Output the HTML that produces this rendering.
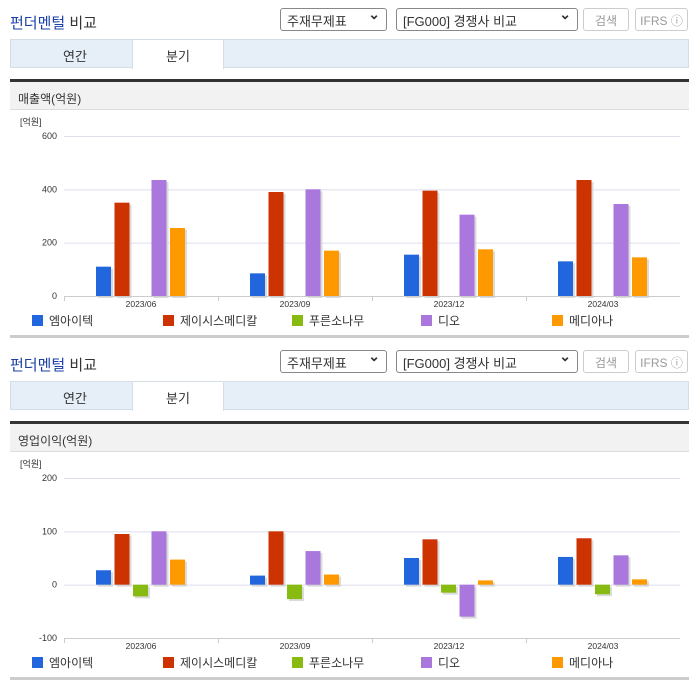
<!DOCTYPE html>
<html><head><meta charset="utf-8">
<style>
*{box-sizing:border-box;margin:0;padding:0}
body{width:696px;height:684px;background:#fff;font-family:"Liberation Sans","Noto Sans CJK KR",sans-serif;position:relative;overflow:hidden;color:#333}
.sec{position:absolute;left:0;width:696px;height:342px}
.title{position:absolute;left:10px;top:12px;font-size:15px;color:#1a3fa8}
.title span{color:#333}
.sel{position:absolute;top:8px;height:23px;border:1px solid #888;border-radius:3px;font-size:13px;padding:2px 6px;background:#fff}
.sel:after{content:"⌄";position:absolute;right:6px;top:-3px;font-size:14px;font-weight:bold}
.btn{position:absolute;top:8px;height:23px;border:1px solid #ccc;border-radius:3px;font-size:12px;color:#999;text-align:center;padding-top:3px}
.tabs{position:absolute;left:10px;top:39px;width:679px;height:29px;background:#e6eef8;border:1px solid #d4dde8}
.tab{position:absolute;top:0;height:28px;width:92px;text-align:center;font-size:13px;padding-top:6px}
.hdr{position:absolute;left:10px;top:79px;width:679px;height:31px;background:#f2f2f2;border-top:3px solid #333;border-bottom:1px solid #ddd;font-size:12px;padding:8px 0 0 8px}
.bot{position:absolute;left:10px;top:335px;width:679px;height:3px;background:#ccc}
svg{position:absolute;left:0;top:110px}
</style></head><body>
<div class="sec" id="s1" style="top:0"></div>
<div class="sec" id="s2" style="top:342px"></div>
<script>
const categories=["2023/06","2023/09","2023/12","2024/03"];
const seriesNames=["엠아이텍","제이시스메디칼","푸른소나무","디오","메디아나"];
const seriesColors=["#2266dd","#cc3300","#88bb11","#aa77dd","#ff9900"];
const revM=[110,85,155,130];
const revJ=[350,390,395,435];
const revP=[0,0,0,0];
const revD=[435,400,305,345];
const revMe=[255,170,175,145];
const revTicks=[0,200,400,600];
const opM=[27,17,50,52];
const opJ=[95,100,85,87];
const opP=[-22,-27,-15,-18];
const opD=[100,63,-60,55];
const opMe=[47,19,8,10];
const opTicks=[-100,0,100,200];
const NS="http://www.w3.org/2000/svg";
function mk(tag,attrs,parent){const e=document.createElementNS(NS,tag);for(const k in attrs)e.setAttribute(k,attrs[k]);parent.appendChild(e);return e;}
function build(sec,label,series,ticks,nameKey){
  sec.innerHTML=`<div class="title">펀더멘털 <span>비교</span></div>
  <div class="sel" style="left:280px;width:107px">주재무제표</div>
  <div class="sel" style="left:396px;width:182px">[FG000] 경쟁사 비교</div>
  <div class="btn" style="left:583px;width:46px">검색</div>
  <div class="btn" style="left:635px;width:53px">IFRS ⓘ</div>
  <div class="tabs">
   <div class="tab" style="left:18px">연간</div>
   <div class="tab" style="left:121px;background:#fff;border-left:1px solid #d4dde8;border-right:1px solid #d4dde8;height:29px">분기</div>
  </div>
  <div class="hdr">${label}</div>
  <div class="bot"></div>`;
  const svg=mk("svg",{width:696,height:226},sec);
  
  
  const top=26,bot=186,left=64,right=680;
  const lo=ticks[0],hi=ticks[ticks.length-1];
  const y=v=>bot-(v-lo)/(hi-lo)*(bot-top);
  const zero=y(Math.max(lo,0));
  const t=mk("text",{x:20,y:15,"font-size":9,fill:"#333"},svg);t.textContent="[억원]";
  ticks.forEach(v=>{
    mk("line",{x1:left,x2:right,y1:y(v)+.5,y2:y(v)+.5,stroke:"#dde",}, svg);
    const tt=mk("text",{x:57,y:y(v)+3,"font-size":9,"text-anchor":"end",fill:"#333"},svg);tt.textContent=v;
  });
  mk("line",{x1:left,x2:right,y1:bot+.5,y2:bot+.5,stroke:"#ccc"},svg);
  const cw=(right-left)/categories.length;
  categories.forEach((c,i)=>{
    mk("line",{x1:left+i*cw+.5,x2:left+i*cw+.5,y1:bot,y2:bot+5,stroke:"#ccc"},svg);
    const ct=mk("text",{x:left+(i+.5)*cw,y:bot+11,"font-size":8.5,"text-anchor":"middle",fill:"#333"},svg);ct.textContent=c;
    series.forEach((arr,s)=>{
      const v=arr[i];const x=left+i*cw+32+s*18.5;
      const y1=Math.min(y(v),zero),h=Math.abs(y(v)-zero);
      if(h<0.5)return;
      mk("rect",{x:x+2,y:y1+2,width:15,height:h,fill:"#ccc",opacity:.7},svg);
      const r=mk("rect",{x:x,y:y1,width:15,height:h,fill:seriesColors[s]},svg);
      
      
    });
  });
  const lx=[32,163,292,421,552];
  seriesNames.forEach((n,s)=>{
    mk("rect",{x:lx[s],y:205,width:11,height:11,fill:seriesColors[s]},svg);
    const lt=mk("text",{x:lx[s]+17,y:215,"font-size":12,fill:"#333"},svg);lt.textContent=n;
    
    
  });
}
build(document.getElementById("s1"),"매출액(억원)",[revM,revJ,revP,revD,revMe],revTicks,"revenue");
build(document.getElementById("s2"),"영업이익(억원)",[opM,opJ,opP,opD,opMe],opTicks,"op");
</script>
</body></html>
